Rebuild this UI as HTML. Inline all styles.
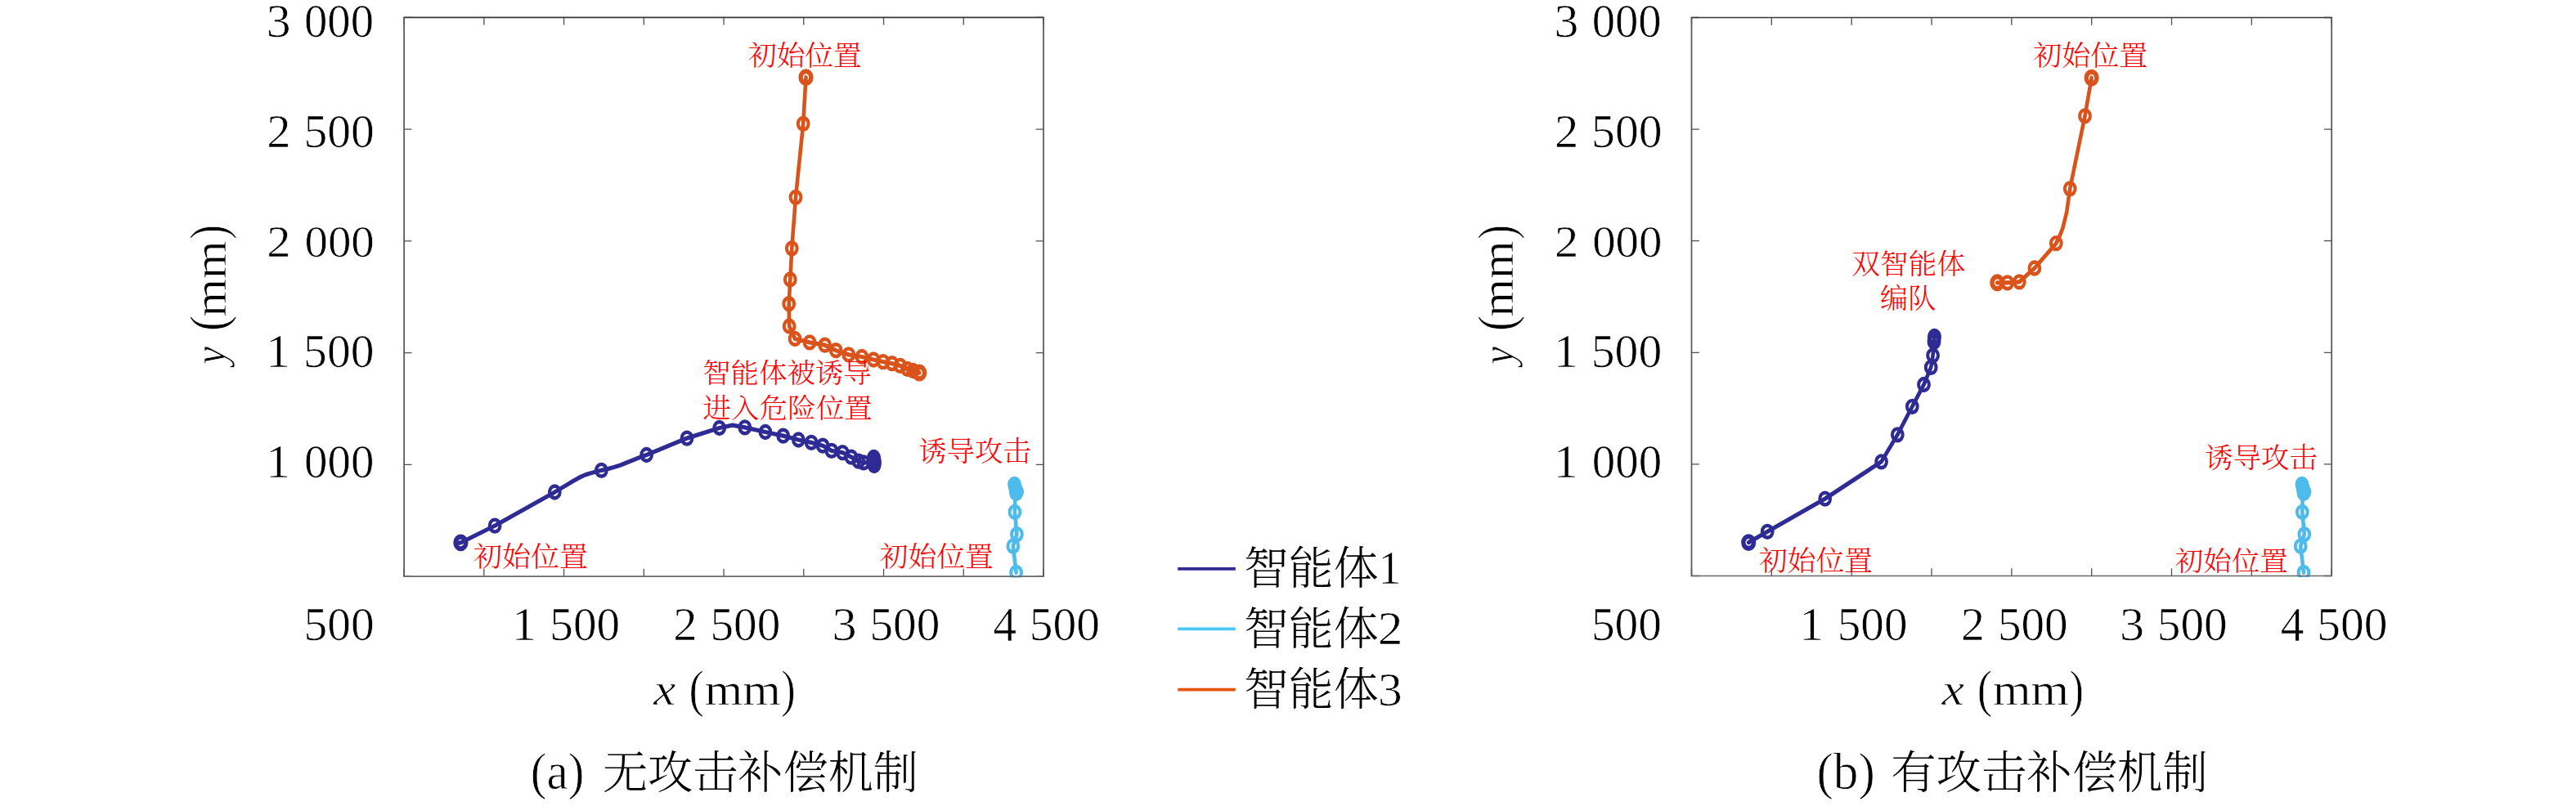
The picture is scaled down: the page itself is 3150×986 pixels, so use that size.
<!DOCTYPE html>
<html><head><meta charset="utf-8"><title>figure</title>
<style>
html,body{margin:0;padding:0;background:#fff;}
svg{display:block;}
.num{font-family:"Liberation Serif","Noto Serif CJK SC",serif;fill:#000;}
.cjk{font-family:"Liberation Serif","Noto Serif CJK SC",serif;fill:#000;}
.red{font-family:"Liberation Serif","Noto Serif CJK SC",serif;fill:#f00;}
.it{font-family:"Liberation Serif",serif;font-style:italic;fill:#000;}
.cjk,.red{font-weight:300;}
.num,.it{stroke:#fff;stroke-width:0.7px;}

body{width:3150px;height:986px;overflow:hidden;}
</style></head>
<body>
<svg width="3150" height="986" viewBox="0 0 3150 986">
<defs>
<clipPath id="ca"><rect x="494.1" y="21.3" width="781.9" height="685.3000000000001"/></clipPath>
<clipPath id="cb"><rect x="2068.5" y="21.5" width="782.6999999999998" height="684.5"/></clipPath>
</defs>
<rect width="3150" height="986" fill="#fff"/>
<g clip-path="url(#ca)"><g transform="scale(1 1.15)">
<path d="M1241.50 519.13 L1240.90 544.70 L1243.40 568.35 L1238.80 581.04 L1242.60 609.04" fill="none" stroke="#4DBBEC" stroke-width="4.6" stroke-linejoin="round" stroke-linecap="round"/>
<circle cx="1240.90" cy="544.70" r="6.4" fill="none" stroke="#4DBBEC" stroke-width="4.0"/>
<circle cx="1243.40" cy="568.35" r="6.4" fill="none" stroke="#4DBBEC" stroke-width="4.0"/>
<circle cx="1238.80" cy="581.04" r="6.4" fill="none" stroke="#4DBBEC" stroke-width="4.0"/>
<circle cx="1242.60" cy="609.04" r="6.4" fill="none" stroke="#4DBBEC" stroke-width="4.0"/>
<circle cx="1240.50" cy="515.22" r="6.4" fill="none" stroke="#4DBBEC" stroke-width="4.0"/>
<circle cx="1241.50" cy="518.70" r="6.4" fill="none" stroke="#4DBBEC" stroke-width="4.0"/>
<circle cx="1242.30" cy="522.17" r="6.4" fill="none" stroke="#4DBBEC" stroke-width="4.0"/>
<circle cx="1242.60" cy="524.78" r="6.4" fill="none" stroke="#4DBBEC" stroke-width="4.0"/>
<circle cx="1243.60" cy="523.04" r="6.4" fill="none" stroke="#4DBBEC" stroke-width="4.0"/>
<path d="M559.80 577.65 L563.40 577.30 L605.10 559.22 L678.30 523.48 L702.30 510.96 L709.80 507.39 L715.70 505.13 L721.70 503.48 L735.40 500.26 L743.30 498.78 L750.70 496.96 L758.10 494.96 L769.30 491.04 L780.50 487.22 L790.60 483.91 L840.00 466.17 L879.70 455.22 L895.70 452.26 L910.80 454.70 L935.90 459.57 L957.70 463.65 L976.40 467.83 L992.10 470.70 L1006.10 474.09 L1016.90 479.48 L1030.30 481.39 L1040.90 486.26 L1049.80 490.61 L1056.00 492.09 L1063.00 492.17 L1069.00 489.57 L1069.00 493.91" fill="none" stroke="#2E2C94" stroke-width="4.6" stroke-linejoin="round" stroke-linecap="round"/>
<circle cx="605.10" cy="559.22" r="6.4" fill="none" stroke="#2E2C94" stroke-width="4.0"/>
<circle cx="678.30" cy="523.48" r="6.4" fill="none" stroke="#2E2C94" stroke-width="4.0"/>
<circle cx="735.40" cy="500.26" r="6.4" fill="none" stroke="#2E2C94" stroke-width="4.0"/>
<circle cx="790.60" cy="483.91" r="6.4" fill="none" stroke="#2E2C94" stroke-width="4.0"/>
<circle cx="840.00" cy="466.17" r="6.4" fill="none" stroke="#2E2C94" stroke-width="4.0"/>
<circle cx="879.70" cy="455.22" r="6.4" fill="none" stroke="#2E2C94" stroke-width="4.0"/>
<circle cx="910.80" cy="454.70" r="6.4" fill="none" stroke="#2E2C94" stroke-width="4.0"/>
<circle cx="935.90" cy="459.57" r="6.4" fill="none" stroke="#2E2C94" stroke-width="4.0"/>
<circle cx="957.70" cy="463.65" r="6.4" fill="none" stroke="#2E2C94" stroke-width="4.0"/>
<circle cx="976.40" cy="467.83" r="6.4" fill="none" stroke="#2E2C94" stroke-width="4.0"/>
<circle cx="992.10" cy="470.70" r="6.4" fill="none" stroke="#2E2C94" stroke-width="4.0"/>
<circle cx="1006.10" cy="474.09" r="6.4" fill="none" stroke="#2E2C94" stroke-width="4.0"/>
<circle cx="1016.90" cy="479.48" r="6.4" fill="none" stroke="#2E2C94" stroke-width="4.0"/>
<circle cx="1030.30" cy="481.39" r="6.4" fill="none" stroke="#2E2C94" stroke-width="4.0"/>
<circle cx="1040.90" cy="486.26" r="6.4" fill="none" stroke="#2E2C94" stroke-width="4.0"/>
<circle cx="1049.80" cy="490.61" r="6.4" fill="none" stroke="#2E2C94" stroke-width="4.0"/>
<circle cx="1056.00" cy="492.09" r="6.4" fill="none" stroke="#2E2C94" stroke-width="4.0"/>
<circle cx="563.40" cy="577.30" r="6.4" fill="none" stroke="#2E2C94" stroke-width="5.4"/><circle cx="1068.50" cy="486.52" r="6.4" fill="none" stroke="#2E2C94" stroke-width="4.0"/>
<circle cx="1069.30" cy="489.57" r="6.4" fill="none" stroke="#2E2C94" stroke-width="4.0"/>
<circle cx="1069.50" cy="492.61" r="6.4" fill="none" stroke="#2E2C94" stroke-width="4.0"/>
<circle cx="1069.00" cy="495.22" r="6.4" fill="none" stroke="#2E2C94" stroke-width="4.0"/>
<path d="M985.50 82.26 L982.20 131.57 L973.00 209.91 L968.30 264.17 L966.30 297.30 L964.70 323.22 L965.10 346.96 L972.10 360.43 L990.10 364.26 L1008.70 367.13 L1022.20 372.78 L1037.80 377.30 L1053.90 379.57 L1068.20 382.61 L1079.90 384.87 L1090.80 386.70 L1100.80 389.04 L1109.50 392.43 L1116.50 394.35 L1124.20 396.52" fill="none" stroke="#D9531A" stroke-width="4.6" stroke-linejoin="round" stroke-linecap="round"/>
<circle cx="982.20" cy="131.57" r="6.4" fill="none" stroke="#D9531A" stroke-width="4.0"/>
<circle cx="973.00" cy="209.91" r="6.4" fill="none" stroke="#D9531A" stroke-width="4.0"/>
<circle cx="968.30" cy="264.17" r="6.4" fill="none" stroke="#D9531A" stroke-width="4.0"/>
<circle cx="966.30" cy="297.30" r="6.4" fill="none" stroke="#D9531A" stroke-width="4.0"/>
<circle cx="964.70" cy="323.22" r="6.4" fill="none" stroke="#D9531A" stroke-width="4.0"/>
<circle cx="965.10" cy="346.96" r="6.4" fill="none" stroke="#D9531A" stroke-width="4.0"/>
<circle cx="972.10" cy="360.43" r="6.4" fill="none" stroke="#D9531A" stroke-width="4.0"/>
<circle cx="990.10" cy="364.26" r="6.4" fill="none" stroke="#D9531A" stroke-width="4.0"/>
<circle cx="1008.70" cy="367.13" r="6.4" fill="none" stroke="#D9531A" stroke-width="4.0"/>
<circle cx="1022.20" cy="372.78" r="6.4" fill="none" stroke="#D9531A" stroke-width="4.0"/>
<circle cx="1037.80" cy="377.30" r="6.4" fill="none" stroke="#D9531A" stroke-width="4.0"/>
<circle cx="1053.90" cy="379.57" r="6.4" fill="none" stroke="#D9531A" stroke-width="4.0"/>
<circle cx="1068.20" cy="382.61" r="6.4" fill="none" stroke="#D9531A" stroke-width="4.0"/>
<circle cx="1079.90" cy="384.87" r="6.4" fill="none" stroke="#D9531A" stroke-width="4.0"/>
<circle cx="1090.80" cy="386.70" r="6.4" fill="none" stroke="#D9531A" stroke-width="4.0"/>
<circle cx="1100.80" cy="389.04" r="6.4" fill="none" stroke="#D9531A" stroke-width="4.0"/>
<circle cx="1109.50" cy="392.43" r="6.4" fill="none" stroke="#D9531A" stroke-width="4.0"/>
<circle cx="1116.50" cy="394.35" r="6.4" fill="none" stroke="#D9531A" stroke-width="4.0"/>
<circle cx="985.50" cy="82.26" r="6.4" fill="none" stroke="#D9531A" stroke-width="5.4"/><circle cx="1124.20" cy="396.52" r="6.4" fill="none" stroke="#D9531A" stroke-width="5.4"/>
</g></g>
<g clip-path="url(#cb)"><g transform="scale(1 1.15)">
<path d="M2815.90 519.13 L2815.30 544.70 L2817.80 568.35 L2813.20 581.04 L2817.00 609.04" fill="none" stroke="#4DBBEC" stroke-width="4.6" stroke-linejoin="round" stroke-linecap="round"/>
<circle cx="2815.30" cy="544.70" r="6.4" fill="none" stroke="#4DBBEC" stroke-width="4.0"/>
<circle cx="2817.80" cy="568.35" r="6.4" fill="none" stroke="#4DBBEC" stroke-width="4.0"/>
<circle cx="2813.20" cy="581.04" r="6.4" fill="none" stroke="#4DBBEC" stroke-width="4.0"/>
<circle cx="2817.00" cy="609.04" r="6.4" fill="none" stroke="#4DBBEC" stroke-width="4.0"/>
<circle cx="2814.90" cy="515.22" r="6.4" fill="none" stroke="#4DBBEC" stroke-width="4.0"/>
<circle cx="2815.90" cy="518.70" r="6.4" fill="none" stroke="#4DBBEC" stroke-width="4.0"/>
<circle cx="2816.70" cy="522.17" r="6.4" fill="none" stroke="#4DBBEC" stroke-width="4.0"/>
<circle cx="2817.00" cy="524.78" r="6.4" fill="none" stroke="#4DBBEC" stroke-width="4.0"/>
<circle cx="2818.00" cy="523.04" r="6.4" fill="none" stroke="#4DBBEC" stroke-width="4.0"/>
<path d="M2138.20 577.04 L2161.20 565.48 L2231.70 530.52 L2300.60 491.13 L2320.30 462.43 L2338.30 432.43 L2352.50 409.13 L2361.20 390.78 L2363.60 378.09 L2365.00 363.74 L2365.50 358.61 L2365.50 356.96" fill="none" stroke="#2E2C94" stroke-width="4.6" stroke-linejoin="round" stroke-linecap="round"/>
<circle cx="2161.20" cy="565.48" r="6.4" fill="none" stroke="#2E2C94" stroke-width="4.0"/>
<circle cx="2231.70" cy="530.52" r="6.4" fill="none" stroke="#2E2C94" stroke-width="4.0"/>
<circle cx="2300.60" cy="491.13" r="6.4" fill="none" stroke="#2E2C94" stroke-width="4.0"/>
<circle cx="2320.30" cy="462.43" r="6.4" fill="none" stroke="#2E2C94" stroke-width="4.0"/>
<circle cx="2338.30" cy="432.43" r="6.4" fill="none" stroke="#2E2C94" stroke-width="4.0"/>
<circle cx="2352.50" cy="409.13" r="6.4" fill="none" stroke="#2E2C94" stroke-width="4.0"/>
<circle cx="2361.20" cy="390.78" r="6.4" fill="none" stroke="#2E2C94" stroke-width="4.0"/>
<circle cx="2363.60" cy="378.09" r="6.4" fill="none" stroke="#2E2C94" stroke-width="4.0"/>
<circle cx="2365.00" cy="363.74" r="6.4" fill="none" stroke="#2E2C94" stroke-width="4.0"/>
<circle cx="2138.20" cy="577.04" r="6.4" fill="none" stroke="#2E2C94" stroke-width="5.4"/><circle cx="2365.50" cy="357.83" r="6.4" fill="none" stroke="#2E2C94" stroke-width="4.0"/>
<circle cx="2365.30" cy="360.00" r="6.4" fill="none" stroke="#2E2C94" stroke-width="4.0"/>
<path d="M2557.60 82.78 L2549.50 123.39 L2531.20 200.70 L2527.20 225.65 L2522.30 242.96 L2518.30 251.57 L2514.30 258.78 L2487.90 285.22 L2469.30 299.83 L2454.80 300.70 L2442.30 300.70" fill="none" stroke="#D9531A" stroke-width="4.6" stroke-linejoin="round" stroke-linecap="round"/>
<circle cx="2549.50" cy="123.39" r="6.4" fill="none" stroke="#D9531A" stroke-width="4.0"/>
<circle cx="2531.20" cy="200.70" r="6.4" fill="none" stroke="#D9531A" stroke-width="4.0"/>
<circle cx="2514.30" cy="258.78" r="6.4" fill="none" stroke="#D9531A" stroke-width="4.0"/>
<circle cx="2487.90" cy="285.22" r="6.4" fill="none" stroke="#D9531A" stroke-width="4.0"/>
<circle cx="2469.30" cy="299.83" r="6.4" fill="none" stroke="#D9531A" stroke-width="4.0"/>
<circle cx="2454.80" cy="300.70" r="6.4" fill="none" stroke="#D9531A" stroke-width="4.0"/>
<circle cx="2557.60" cy="82.78" r="6.4" fill="none" stroke="#D9531A" stroke-width="5.4"/><circle cx="2442.30" cy="300.70" r="6.4" fill="none" stroke="#D9531A" stroke-width="5.4"/>
</g></g>
<path d="M494.10 705.10V695.80M494.10 21.30V30.60M591.84 705.10V695.80M591.84 21.30V30.60M689.58 705.10V695.80M689.58 21.30V30.60M787.31 705.10V695.80M787.31 21.30V30.60M885.05 705.10V695.80M885.05 21.30V30.60M982.79 705.10V695.80M982.79 21.30V30.60M1080.53 705.10V695.80M1080.53 21.30V30.60M1178.26 705.10V695.80M1178.26 21.30V30.60M1276.00 705.10V695.80M1276.00 21.30V30.60M494.10 705.10H503.40M1276.00 705.10H1266.70M494.10 568.34H503.40M1276.00 568.34H1266.70M494.10 431.58H503.40M1276.00 431.58H1266.70M494.10 294.82H503.40M1276.00 294.82H1266.70M494.10 158.06H503.40M1276.00 158.06H1266.70M494.10 21.30H503.40M1276.00 21.30H1266.70" stroke="#505050" stroke-width="1.3" fill="none"/>
<path d="M493.25 21.30H1276.85" stroke="#383838" stroke-width="1.7"/>
<path d="M493.25 705.10H1276.85" stroke="#6a6a6a" stroke-width="1.7"/>
<path d="M494.10 21.30V705.10M1276.00 21.30V705.10" stroke="#555" stroke-width="1.7"/>
<path d="M2068.50 704.50V695.20M2068.50 21.50V30.80M2166.34 704.50V695.20M2166.34 21.50V30.80M2264.18 704.50V695.20M2264.18 21.50V30.80M2362.01 704.50V695.20M2362.01 21.50V30.80M2459.85 704.50V695.20M2459.85 21.50V30.80M2557.69 704.50V695.20M2557.69 21.50V30.80M2655.52 704.50V695.20M2655.52 21.50V30.80M2753.36 704.50V695.20M2753.36 21.50V30.80M2851.20 704.50V695.20M2851.20 21.50V30.80M2068.50 704.50H2077.80M2851.20 704.50H2841.90M2068.50 567.90H2077.80M2851.20 567.90H2841.90M2068.50 431.30H2077.80M2851.20 431.30H2841.90M2068.50 294.70H2077.80M2851.20 294.70H2841.90M2068.50 158.10H2077.80M2851.20 158.10H2841.90M2068.50 21.50H2077.80M2851.20 21.50H2841.90" stroke="#505050" stroke-width="1.3" fill="none"/>
<path d="M2067.65 21.50H2852.05" stroke="#383838" stroke-width="1.7"/>
<path d="M2067.65 704.50H2852.05" stroke="#6a6a6a" stroke-width="1.7"/>
<path d="M2068.50 21.50V704.50M2851.20 21.50V704.50" stroke="#555" stroke-width="1.7"/>
<line x1="1440.2" y1="695.8" x2="1510.8" y2="695.8" stroke="#2E2B95" stroke-width="3.8"/>
<line x1="1440.2" y1="769.3" x2="1510.8" y2="769.3" stroke="#4DC6F8" stroke-width="3.8"/>
<line x1="1440.2" y1="843.7" x2="1510.8" y2="843.7" stroke="#E6540F" stroke-width="3.8"/>
<g transform="matrix(1.03913 0 0 0.97895 221.870 -150.789)"><text x="100" y="200" font-size="57.5" class="num">3</text></g>
<g transform="matrix(0.98642 0 0 0.97895 273.299 -150.789)"><text x="100" y="200" font-size="57.5" class="num">000</text></g>
<g transform="matrix(1.03913 0 0 0.97895 1796.570 -150.789)"><text x="100" y="200" font-size="57.5" class="num">3</text></g>
<g transform="matrix(0.98642 0 0 0.97895 1847.999 -150.789)"><text x="100" y="200" font-size="57.5" class="num">000</text></g>
<g transform="matrix(1.01818 0 0 0.97895 224.527 -15.589)"><text x="100" y="200" font-size="57.5" class="num">2</text></g>
<g transform="matrix(1.00250 0 0 0.97895 271.140 -15.589)"><text x="100" y="200" font-size="57.5" class="num">500</text></g>
<g transform="matrix(1.01818 0 0 0.97895 1799.227 -15.589)"><text x="100" y="200" font-size="57.5" class="num">2</text></g>
<g transform="matrix(1.00250 0 0 0.97895 1845.840 -15.589)"><text x="100" y="200" font-size="57.5" class="num">500</text></g>
<g transform="matrix(1.01818 0 0 0.96316 224.527 121.368)"><text x="100" y="200" font-size="57.5" class="num">2</text></g>
<g transform="matrix(0.99012 0 0 0.96316 273.417 121.368)"><text x="100" y="200" font-size="57.5" class="num">000</text></g>
<g transform="matrix(1.01818 0 0 0.96316 1799.227 121.368)"><text x="100" y="200" font-size="57.5" class="num">2</text></g>
<g transform="matrix(0.99012 0 0 0.96316 1848.117 121.368)"><text x="100" y="200" font-size="57.5" class="num">000</text></g>
<g transform="matrix(1.04211 0 0 0.99211 220.737 250.479)"><text x="100" y="200" font-size="57.5" class="num">1</text></g>
<g transform="matrix(1.00250 0 0 0.99211 270.840 250.479)"><text x="100" y="200" font-size="57.5" class="num">500</text></g>
<g transform="matrix(1.04211 0 0 0.99211 1795.437 250.479)"><text x="100" y="200" font-size="57.5" class="num">1</text></g>
<g transform="matrix(1.00250 0 0 0.99211 1845.540 250.479)"><text x="100" y="200" font-size="57.5" class="num">500</text></g>
<g transform="matrix(1.04211 0 0 0.99474 220.737 385.353)"><text x="100" y="200" font-size="57.5" class="num">1</text></g>
<g transform="matrix(0.99012 0 0 0.99474 273.117 385.353)"><text x="100" y="200" font-size="57.5" class="num">000</text></g>
<g transform="matrix(1.04211 0 0 0.99474 1795.437 385.353)"><text x="100" y="200" font-size="57.5" class="num">1</text></g>
<g transform="matrix(0.99012 0 0 0.99474 1847.817 385.353)"><text x="100" y="200" font-size="57.5" class="num">000</text></g>
<g transform="matrix(0.99875 0 0 0.97368 271.630 588.263)"><text x="100" y="200" font-size="57.5" class="num">500</text></g>
<g transform="matrix(0.99875 0 0 0.97368 1846.030 588.263)"><text x="100" y="200" font-size="57.5" class="num">500</text></g>
<g transform="matrix(1.04737 0 0 1.00000 520.979 583.000)"><text x="100" y="200" font-size="57.5" class="num">1</text></g>
<g transform="matrix(0.99500 0 0 0.97895 572.820 587.211)"><text x="100" y="200" font-size="57.5" class="num">500</text></g>
<g transform="matrix(1.04737 0 0 1.00000 2095.379 583.000)"><text x="100" y="200" font-size="57.5" class="num">1</text></g>
<g transform="matrix(0.99500 0 0 0.97895 2147.220 587.211)"><text x="100" y="200" font-size="57.5" class="num">500</text></g>
<g transform="matrix(1.01818 0 0 0.98684 721.527 585.932)"><text x="100" y="200" font-size="57.5" class="num">2</text></g>
<g transform="matrix(0.99500 0 0 0.98684 769.020 585.932)"><text x="100" y="200" font-size="57.5" class="num">500</text></g>
<g transform="matrix(1.01818 0 0 0.98684 2295.927 585.932)"><text x="100" y="200" font-size="57.5" class="num">2</text></g>
<g transform="matrix(0.99500 0 0 0.98684 2343.420 585.932)"><text x="100" y="200" font-size="57.5" class="num">500</text></g>
<g transform="matrix(1.04783 0 0 0.98684 912.774 585.932)"><text x="100" y="200" font-size="57.5" class="num">3</text></g>
<g transform="matrix(0.99625 0 0 0.98684 963.790 585.932)"><text x="100" y="200" font-size="57.5" class="num">500</text></g>
<g transform="matrix(1.04783 0 0 0.98684 2487.174 585.932)"><text x="100" y="200" font-size="57.5" class="num">3</text></g>
<g transform="matrix(0.99625 0 0 0.98684 2538.190 585.932)"><text x="100" y="200" font-size="57.5" class="num">500</text></g>
<g transform="matrix(1.00400 0 0 1.03684 1113.892 576.732)"><text x="100" y="200" font-size="57.5" class="num">4</text></g>
<g transform="matrix(1.00125 0 0 0.98684 1158.670 585.932)"><text x="100" y="200" font-size="57.5" class="num">500</text></g>
<g transform="matrix(1.00400 0 0 1.03684 2688.292 576.732)"><text x="100" y="200" font-size="57.5" class="num">4</text></g>
<g transform="matrix(1.00125 0 0 0.98684 2733.070 585.932)"><text x="100" y="200" font-size="57.5" class="num">500</text></g>
<g transform="matrix(1.07200 0 0 0.96538 691.800 668.923)"><text x="100" y="200" font-size="57.5" class="it">x</text></g>
<g transform="matrix(0.95714 0 0 1.11600 746.714 640.424)"><text x="100" y="200" font-size="57.5" class="num">(</text></g>
<g transform="matrix(1.03837 0 0 0.96538 757.886 668.923)"><text x="100" y="200" font-size="57.5" class="num">mm</text></g>
<g transform="matrix(0.91429 0 0 1.11600 863.743 640.424)"><text x="100" y="200" font-size="57.5" class="num">)</text></g>
<g transform="matrix(1.07200 0 0 0.96538 2267.200 668.923)"><text x="100" y="200" font-size="57.5" class="it">x</text></g>
<g transform="matrix(0.95714 0 0 1.11600 2322.114 640.424)"><text x="100" y="200" font-size="57.5" class="num">(</text></g>
<g transform="matrix(1.03837 0 0 0.96538 2333.286 668.923)"><text x="100" y="200" font-size="57.5" class="num">mm</text></g>
<g transform="matrix(0.91429 0 0 1.11600 2439.143 640.424)"><text x="100" y="200" font-size="57.5" class="num">)</text></g>
<g transform="matrix(0.94211 0 0 0.85172 -7.237 19.831)"><text x="300" y="500" font-size="57.5" class="it" transform="rotate(-90 300 500)">y</text></g>
<g transform="matrix(1.11200 0 0 0.99286 -57.432 -91.450)"><text x="300" y="500" font-size="57.5" class="num" transform="rotate(-90 300 500)">(</text></g>
<g transform="matrix(0.98077 0 0 1.03953 -18.531 -132.188)"><text x="300" y="500" font-size="57.5" class="num" transform="rotate(-90 300 500)">mm</text></g>
<g transform="matrix(1.11200 0 0 0.92857 -57.432 -171.629)"><text x="300" y="500" font-size="57.5" class="num" transform="rotate(-90 300 500)">)</text></g>
<g transform="matrix(0.94211 0 0 0.85172 1567.163 19.831)"><text x="300" y="500" font-size="57.5" class="it" transform="rotate(-90 300 500)">y</text></g>
<g transform="matrix(1.11200 0 0 0.99286 1516.968 -91.450)"><text x="300" y="500" font-size="57.5" class="num" transform="rotate(-90 300 500)">(</text></g>
<g transform="matrix(0.98077 0 0 1.03953 1555.869 -132.188)"><text x="300" y="500" font-size="57.5" class="num" transform="rotate(-90 300 500)">mm</text></g>
<g transform="matrix(1.11200 0 0 0.92857 1516.968 -171.629)"><text x="300" y="500" font-size="57.5" class="num" transform="rotate(-90 300 500)">)</text></g>
<g transform="matrix(0.99875 0 0 0.99608 1421.029 514.904)"><text x="100" y="200" font-size="55" class="cjk">智能体</text></g>
<g transform="matrix(0.98421 0 0 0.98158 1586.774 517.484)"><text x="100" y="200" font-size="57.5" class="num">1</text></g>
<g transform="matrix(0.99875 0 0 0.99020 1421.029 589.810)"><text x="100" y="200" font-size="55" class="cjk">智能体</text></g>
<g transform="matrix(1.06818 0 0 0.97368 1577.977 593.263)"><text x="100" y="200" font-size="57.5" class="num">2</text></g>
<g transform="matrix(0.99875 0 0 0.99412 1421.029 663.206)"><text x="100" y="200" font-size="55" class="cjk">智能体</text></g>
<g transform="matrix(1.03478 0 0 0.99211 1581.417 664.279)"><text x="100" y="200" font-size="57.5" class="num">3</text></g>
<g transform="matrix(1.02931 0 0 1.09000 545.881 747.410)"><text x="100" y="200" font-size="57.5" class="num">(a)</text></g>
<g transform="matrix(1.00290 0 0 0.98824 636.604 766.612)"><text x="100" y="200" font-size="55" class="cjk">无攻击补偿机制</text></g>
<g transform="matrix(1.06230 0 0 1.08824 2115.284 747.782)"><text x="100" y="200" font-size="57.5" class="num">(b)</text></g>
<g transform="matrix(1.00714 0 0 0.98824 2211.464 766.612)"><text x="100" y="200" font-size="55" class="cjk">有攻击补偿机制</text></g>
<g transform="matrix(1.02105 0 0 1.00000 812.874 -119.800)"><text x="100" y="200" font-size="34" class="red">初始位置</text></g>
<g transform="matrix(1.01300 0 0 0.98125 757.874 272.006)"><text x="100" y="200" font-size="34" class="red">智能体被诱导</text></g>
<g transform="matrix(1.01692 0 0 0.98125 757.792 314.306)"><text x="100" y="200" font-size="34" class="red">进入危险位置</text></g>
<g transform="matrix(1.01194 0 0 0.99375 1022.094 365.469)"><text x="100" y="200" font-size="34" class="red">诱导攻击</text></g>
<g transform="matrix(1.02180 0 0 0.99063 973.698 494.903)"><text x="100" y="200" font-size="34" class="red">初始位置</text></g>
<g transform="matrix(1.02932 0 0 0.99375 476.038 494.569)"><text x="100" y="200" font-size="34" class="red">初始位置</text></g>
<g transform="matrix(1.03083 0 0 0.99375 2383.186 -118.531)"><text x="100" y="200" font-size="34" class="red">初始位置</text></g>
<g transform="matrix(1.02105 0 0 0.99063 2162.174 137.003)"><text x="100" y="200" font-size="34" class="red">双智能体</text></g>
<g transform="matrix(1.00769 0 0 0.99062 2198.323 179.303)"><text x="100" y="200" font-size="34" class="red">编队</text></g>
<g transform="matrix(1.01269 0 0 0.99687 2595.019 372.934)"><text x="100" y="200" font-size="34" class="red">诱导攻击</text></g>
<g transform="matrix(1.01504 0 0 0.97187 2558.181 504.009)"><text x="100" y="200" font-size="34" class="red">初始位置</text></g>
<g transform="matrix(1.02105 0 0 1.00000 2048.974 498.200)"><text x="100" y="200" font-size="34" class="red">初始位置</text></g>
</svg>
</body></html>
